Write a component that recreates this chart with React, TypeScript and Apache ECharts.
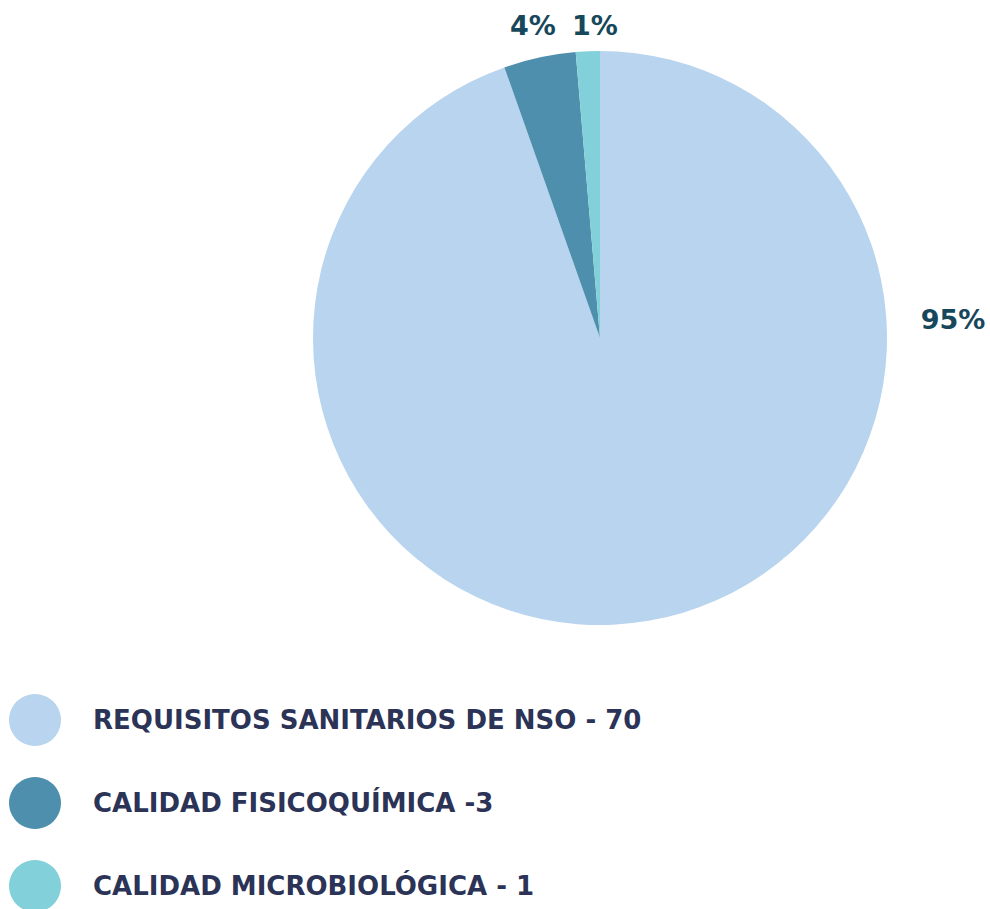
import React, { useEffect, useRef } from "react";
import * as echarts from "echarts";

const categories = [
  "REQUISITOS SANITARIOS DE NSO - 70",
  "CALIDAD FISICOQUÍMICA -3",
  "CALIDAD MICROBIOLÓGICA - 1",
];
const values = [70, 3, 1];
const percentLabels = ["95%", "4%", "1%"];
const colors = ["#b9d4ee", "#4d8fac", "#82d0d9"];

export default function App() {
  const ref = useRef<HTMLDivElement>(null);
  useEffect(() => {
    document.body.style.margin = "0";
    if (!ref.current) return;
    const chart = echarts.init(ref.current, null, { renderer: "svg" });
    const cx = 600;
    const cy = 338;
    const r = 287;
    chart.setOption({
      animation: false,
      color: colors,
      legend: {
        orient: "vertical",
        left: 4,
        top: 689,
        height: 240,
        icon: "circle",
        itemWidth: 52,
        itemHeight: 52,
        itemGap: 31,
        selectedMode: false,
        data: categories,
        textStyle: {
          fontFamily: "DejaVu Sans",
          fontWeight: "bold",
          fontSize: 26,
          color: "#2b3356",
          padding: [0, 0, 0, 27],
        },
      },
      series: [
        {
          type: "pie",
          center: [cx, cy],
          radius: r,
          startAngle: 90,
          clockwise: true,
          data: categories.map((name, i) => ({ name, value: values[i] })),
          label: {
            show: true,
            position: "outside",
            formatter: (p: any) => percentLabels[p.dataIndex],
            fontFamily: "DejaVu Sans",
            fontWeight: "bold",
            fontSize: 27,
            color: "#17475a",
          },
          labelLine: { show: false },
          labelLayout: (p: any) => {
            if (p.dataIndex === 0) {
              return { x: cx + r + 66, y: cy - 19, align: "center", verticalAlign: "middle" };
            }
            if (p.dataIndex === 1) {
              return { x: cx - 67, y: 25, align: "center", verticalAlign: "middle" };
            }
            return { x: cx - 5, y: 25, align: "center", verticalAlign: "middle" };
          },
          itemStyle: { borderWidth: 0 },
          emphasis: { disabled: true },
        },
      ],
    });
    return () => chart.dispose();
  }, []);
  return <div ref={ref} style={{ width: 990, height: 909 }} />;
}
